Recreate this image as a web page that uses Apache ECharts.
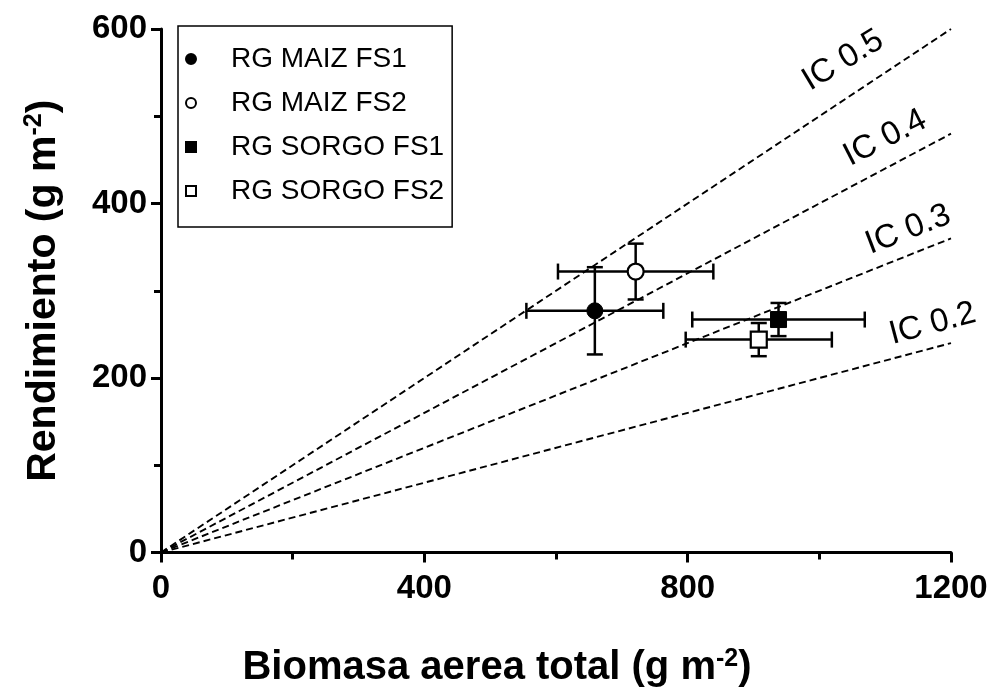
<!DOCTYPE html>
<html><head><meta charset="utf-8">
<script src="https://cdn.jsdelivr.net/npm/echarts@6/dist/echarts.min.js"></script>
<style>html,body{margin:0;padding:0;background:#fff}#c{width:995px;height:693px}</style>
</head><body><div id="c"></div>
<script>
// ---- data ----
const seriesNames = ['RG MAIZ FS1', 'RG MAIZ FS2', 'RG SORGO FS1', 'RG SORGO FS2'];
const biomasa = [659, 721, 938, 908];
const rendimiento = [277, 322, 267, 244];
const biomasaErr = [104, 118, 131, 111];
const rendimientoErr = [50, 32, 19, 19];

const icNames = ['IC 0.5', 'IC 0.4', 'IC 0.3', 'IC 0.2'];
const icLineX = [0, 1200];
const icLineY = [[0, 600], [0, 480], [0, 360], [0, 240]];
const icLabelX = [1036, 1100, 1135, 1172];
const icLabelY = [564, 475, 370, 262];

const xTicks = [0, 400, 800, 1200];
const yTicks = [0, 200, 400, 600];

// ---- styles ----
const FONT = 'Liberation Sans, Arial, sans-serif';
const markerSymbols = ['circle', 'circle', 'rect', 'rect'];
const markerFilled = [true, false, true, false];
const icRotate = [31, 27, 21, 15];

const chart = echarts.init(document.getElementById('c'), null, {renderer: 'canvas'});

const series = [];
icNames.forEach((n, i) => {
  series.push({
    name: n, type: 'line', silent: true, showSymbol: false, symbol: 'none', z: 1,
    data: icLineX.map((x, k) => [x, icLineY[i][k]]),
    lineStyle: {color: '#000', width: 1.9, type: [7, 4], opacity: 1}
  });
});
series.push({
  type: 'scatter', silent: true, symbolSize: 0, z: 2,
  itemStyle: {opacity: 1, color: '#000'},
  data: icNames.map((n, i) => ({
    value: [icLabelX[i], icLabelY[i]], name: n,
    label: {rotate: icRotate[i]}
  })),
  label: {show: true, position: 'inside', formatter: p => p.name, opacity: 1,
    fontFamily: FONT, fontSize: 33, color: '#000', textBorderWidth: 0}
});
series.push({
  type: 'custom', silent: true, z: 3,
  data: biomasa.map((x, i) => [x, rendimiento[i], biomasaErr[i], rendimientoErr[i]]),
  encode: {x: 0, y: 1},
  renderItem: function (params, api) {
    const x = api.value(0), y = api.value(1), ex = api.value(2), ey = api.value(3);
    const l = api.coord([x - ex, y]), r = api.coord([x + ex, y]);
    const t = api.coord([x, y + ey]), b = api.coord([x, y - ey]);
    const c = 8;
    const st = {stroke: '#000', lineWidth: 2.5};
    const ln = (x1, y1, x2, y2) => ({type: 'line', shape: {x1, y1, x2, y2}, style: st});
    return {type: 'group', children: [
      ln(l[0], l[1], r[0], r[1]),
      ln(t[0], t[1], b[0], b[1]),
      ln(l[0], l[1] - c, l[0], l[1] + c),
      ln(r[0], r[1] - c, r[0], r[1] + c),
      ln(t[0] - c, t[1], t[0] + c, t[1]),
      ln(b[0] - c, b[1], b[0] + c, b[1])
    ]};
  }
});
seriesNames.forEach((n, i) => {
  series.push({
    name: n, type: 'scatter', z: 4, silent: true,
    symbol: markerSymbols[i], symbolSize: 16,
    data: [[biomasa[i], rendimiento[i]]],
    itemStyle: markerFilled[i]
      ? {color: '#000', borderColor: '#000', borderWidth: 1, opacity: 1}
      : {color: '#fff', borderColor: '#000', borderWidth: 2.2, opacity: 1}
  });
});

const nameRich = {
  b: {fontFamily: FONT, fontWeight: 'bold', fontSize: 40, color: '#000'},
  sup: {fontFamily: FONT, fontWeight: 'bold', fontSize: 25, color: '#000', verticalAlign: 'top', padding: [0, 0, 18, 0]}
};
const nameRichY = {
  b: {fontFamily: FONT, fontWeight: 'bold', fontSize: 41, color: '#000'},
  sup: {fontFamily: FONT, fontWeight: 'bold', fontSize: 25, color: '#000', verticalAlign: 'top', padding: [0, 0, 18, 0]}
};

const axisCommon = {
  axisLine: {show: true, onZero: false, lineStyle: {color: '#000', width: 3}},
  axisTick: {show: true, inside: false, length: 10, lineStyle: {color: '#000', width: 3}},
  minorTick: {show: true, splitNumber: 2, length: 7, lineStyle: {color: '#000', width: 3}},
  splitLine: {show: false},
  minorSplitLine: {show: false},
  axisLabel: {fontFamily: FONT, fontWeight: 'bold', fontSize: 33, color: '#000', formatter: v => String(v)}
};

chart.setOption({
  animation: false,
  backgroundColor: '#fff',
  grid: {left: 161, right: 44, top: 29, bottom: 137, containLabel: false},
  legend: {
    orient: 'vertical', left: 178, top: 26,
    padding: [18, 8, 21, 7], itemGap: 14,
    borderColor: '#000', borderWidth: 1.5,
    itemWidth: 10, itemHeight: 10, selectedMode: false,
    textStyle: {fontFamily: FONT, fontSize: 28, color: '#000', padding: [0, 0, 0, 30], lineHeight: 30},
    data: seriesNames
  },
  xAxis: Object.assign({}, axisCommon, {
    type: 'value', min: xTicks[0], max: xTicks[xTicks.length - 1], interval: xTicks[1] - xTicks[0],
    axisLabel: Object.assign({}, axisCommon.axisLabel, {margin: 20}),
    name: '{b|Biomasa aerea total (g m}{sup|-2}{b|)}',
    nameLocation: 'middle', nameGap: 94,
    nameTextStyle: {rich: nameRich, padding: [0, 118, 0, 0]}
  }),
  yAxis: Object.assign({}, axisCommon, {
    type: 'value', min: yTicks[0], max: yTicks[yTicks.length - 1], interval: yTicks[1] - yTicks[0],
    axisLabel: Object.assign({}, axisCommon.axisLabel, {margin: 14}),
    name: '{b|Rendimiento (g m}{sup|-2}{b|)}',
    nameLocation: 'middle', nameGap: 96,
    nameTextStyle: {rich: nameRichY}
  }),
  series: series
});
</script></body></html>
